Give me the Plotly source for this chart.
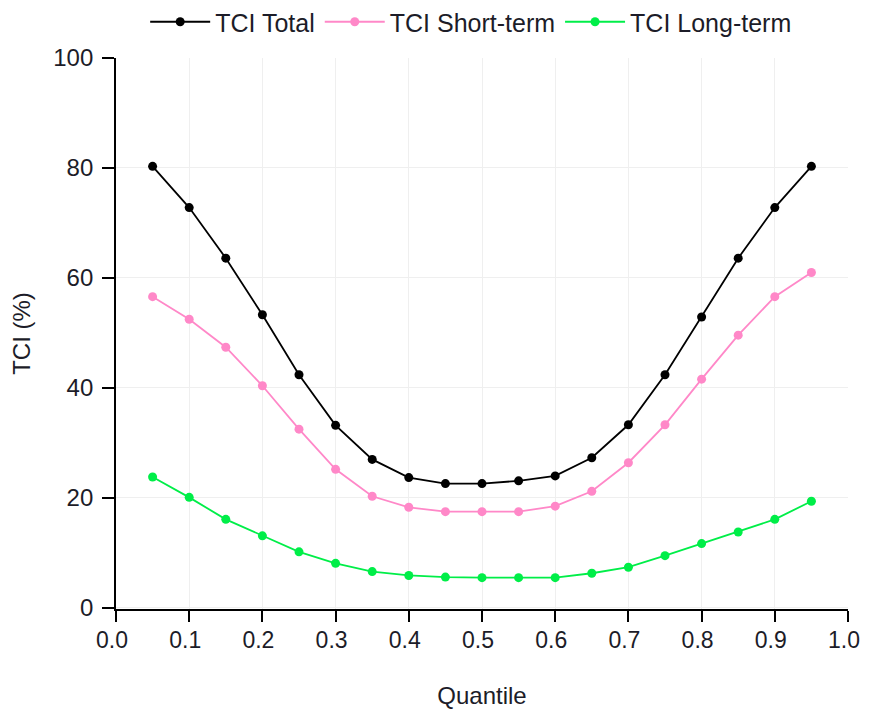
import plotly.graph_objects as go

quantile = [0.05, 0.10, 0.15, 0.20, 0.25, 0.30, 0.35, 0.40, 0.45, 0.50,
            0.55, 0.60, 0.65, 0.70, 0.75, 0.80, 0.85, 0.90, 0.95]
tci_total = [80.3, 72.8, 63.6, 53.3, 42.4, 33.2, 27.0, 23.7, 22.6, 22.6,
             23.1, 24.0, 27.3, 33.3, 42.4, 52.9, 63.6, 72.8, 80.3]
tci_short = [56.6, 52.5, 47.4, 40.4, 32.5, 25.2, 20.3, 18.3, 17.5, 17.5,
             17.5, 18.5, 21.2, 26.4, 33.3, 41.6, 49.6, 56.6, 61.0]
tci_long = [23.8, 20.1, 16.1, 13.1, 10.2, 8.1, 6.6, 5.9, 5.6, 5.5,
            5.5, 5.5, 6.3, 7.4, 9.5, 11.7, 13.8, 16.1, 19.4]
x_ticks = [0.0, 0.1, 0.2, 0.3, 0.4, 0.5, 0.6, 0.7, 0.8, 0.9, 1.0]
x_ticktext = ["0.0", "0.1", "0.2", "0.3", "0.4", "0.5", "0.6", "0.7", "0.8", "0.9", "1.0"]
y_ticks = [0, 20, 40, 60, 80, 100]

series = [("TCI Total", tci_total, "#000000"),
          ("TCI Short-term", tci_short, "#ff88c8"),
          ("TCI Long-term", tci_long, "#00ee48")]

FONT = "Liberation Sans, Arial, sans-serif"
TXT = "#1c1c28"

fig = go.Figure()
for name, vals, col in series:
    fig.add_trace(go.Scatter(x=quantile, y=vals, name=name, mode="lines+markers",
                             line=dict(color=col, width=1.8),
                             marker=dict(color=col, size=9)))

axis_common = dict(showline=True, linecolor="black", linewidth=1.8, automargin=False,
                   ticks="outside", tickcolor="black", tickwidth=1.8,
                   showgrid=True, gridcolor="#efefef", gridwidth=1.2, zeroline=False,
                   ticklabeloverflow="allow",
                   title_font=dict(family=FONT, size=24, color=TXT))

fig.update_layout(
    width=853, height=701,
    paper_bgcolor="white", plot_bgcolor="white",
    margin=dict(l=108, r=13, t=50, b=100),
    showlegend=True,
    legend=dict(orientation="h", xref="container", yref="container",
                x=0.543, xanchor="center", y=0.98, yanchor="middle",
                font=dict(family=FONT, size=25, color=TXT),
                itemwidth=60, traceorder="normal"),
    xaxis=dict(range=[0, 1.0], tickvals=x_ticks, ticktext=x_ticktext,
               ticklen=11, ticklabelstandoff=-2, ticklabelshift=-4,
               tickfont=dict(family=FONT, size=23, color=TXT),
               title=dict(text="Quantile", standoff=37), **axis_common),
    yaxis=dict(range=[-0.2, 100], tickvals=y_ticks,
               ticklen=12, ticklabelstandoff=4,
               tickfont=dict(family=FONT, size=24, color=TXT),
               title=dict(text="TCI (%)", standoff=33), **axis_common),
)

fig.write_html("out.html")
